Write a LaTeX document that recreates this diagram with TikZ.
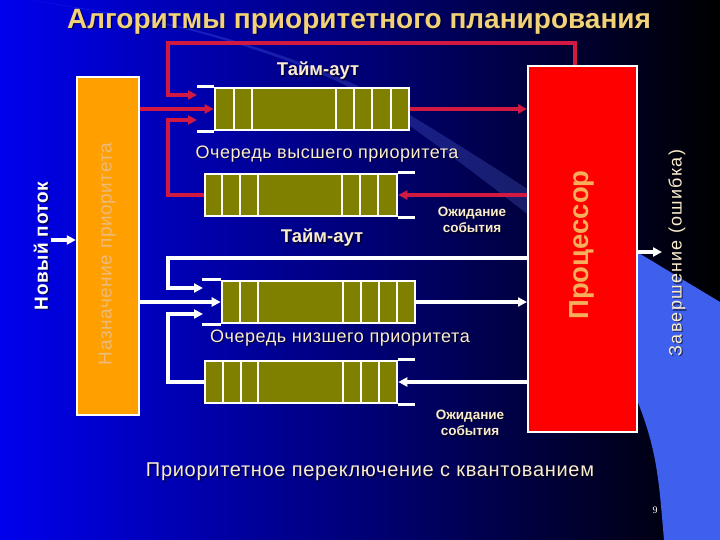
\documentclass[tikz,border=0pt]{standalone}
\usepackage{fontspec}
\setmainfont{Liberation Sans}
\newfontfamily\serifnum{Liberation Serif}
\usetikzlibrary{arrows.meta}
\definecolor{bgL}{RGB}{0,0,238}
\definecolor{bgM}{RGB}{0,0,192}
\definecolor{lightreg}{RGB}{62,96,236}
\definecolor{beamc}{RGB}{110,140,255}
\definecolor{titlec}{RGB}{242,210,120}
\definecolor{creamc}{RGB}{250,236,205}
\definecolor{proctext}{RGB}{245,175,90}
\definecolor{orangebox}{RGB}{255,160,0}
\definecolor{orangetext}{RGB}{238,186,120}
\definecolor{olivec}{RGB}{128,128,0}
\definecolor{redlinec}{RGB}{210,25,65}
\newcommand\shnode[4]{%
  \node[#1, text=black, opacity=0.55] at ([xshift=1.2pt,yshift=-1.2pt]#3) {#4};
  \node[#1] (#2) at (#3) {#4};}
\begin{document}
\begin{tikzpicture}[x=1pt,y=-1pt,
  queue/.style={draw=white, line width=2.6pt, fill=olivec, inner sep=0pt, minimum height=42pt},
  qline/.style={draw=white, line width=2.6pt},
  redarr/.style={draw=redlinec, line width=3.6pt, -{Triangle[length=9pt,width=9pt]}},
  whitearr/.style={draw=white, line width=3.6pt, -{Triangle[length=9pt,width=9pt]}},
  lbl/.style={text=creamc, inner sep=0pt, font=\fontsize{18}{21}\selectfont\addfontfeature{LetterSpace=3}},
  small/.style={text=creamc, inner sep=0pt, align=center, font=\fontsize{13.5}{16.5}\selectfont\bfseries},
  timeout/.style={text=creamc, inner sep=0pt, font=\fontsize{18.5}{21}\selectfont\bfseries},
]
\useasboundingbox (0,0) rectangle (720,540);
% background
\shade[left color=bgL, middle color=bgM, right color=black] (0,0) rectangle (720,540);
\fill[beamc, opacity=0.22] plot[smooth] coordinates {(30,0) (200,31) (360,87) (535,194)}
  -- plot[smooth] coordinates {(535,220) (360,93) (200,33) (30,0)} -- cycle;
\fill[lightreg] (637,252) -- (720,302) -- (720,540) -- (664,540)
  to[out=95,in=-68] (637,400) -- cycle;

% title
\shnode{text=titlec, inner sep=0pt, font=\fontsize{28}{31}\selectfont\bfseries}{title}{359,22}{Алгоритмы приоритетного планирования}

% big boxes
\node[draw=white, line width=2.4pt, fill=orangebox, minimum width=62pt, minimum height=338pt, inner sep=0pt] (ob) at (108,246) {};
\node[text=orangetext, rotate=90, inner sep=0pt, font=\fontsize{19}{22}\selectfont\addfontfeature{LetterSpace=3}] (obl) at (107,254) {Назначение приоритета};
\node[draw=white, line width=2pt, fill=red, minimum width=109pt, minimum height=366pt, inner sep=0pt] (pr) at (582.5,249) {};
\node[text=proctext, rotate=90, inner sep=0pt, font=\fontsize{27.5}{30}\selectfont\bfseries] (prl) at (582,245) {Процессор};

% side labels
\shnode{text=white, rotate=90, inner sep=0pt, font=\fontsize{19}{22}\selectfont\bfseries\addfontfeature{LetterSpace=3}}{nf}{41,246}{Новый поток}
\shnode{text=creamc, rotate=90, inner sep=0pt, font=\fontsize{18}{21}\selectfont\addfontfeature{LetterSpace=7}}{fin}{677,253}{Завершение (ошибка)}

% queues
\node[queue, minimum width=194pt] (qa) at (312,109) {};
\foreach \x in {234,252,336,354,372,391} \draw[qline] (\x,88) -- (\x,130);
\draw[qline] (qa.north west) -- ++(-17,0);
\draw[qline] (qa.south west) -- ++(-17,0);

\node[queue, minimum width=192pt] (qb) at (301,195) {};
\foreach \x in {222,240,258,342,360,378} \draw[qline] (\x,174) -- (\x,216);
\draw[qline] (qb.north east) -- ++(17,0);
\draw[qline] (qb.south east) -- ++(17,0);

\node[queue, minimum width=193pt] (qc) at (318.5,302) {};
\foreach \x in {240,258,343,361,379,397} \draw[qline] (\x,281) -- (\x,323);
\draw[qline] (qc.north west) -- ++(-19,0);
\draw[qline] (qc.south west) -- ++(-19,0);

\node[queue, minimum width=192pt] (qd) at (301,382) {};
\foreach \x in {223,241,258,343,361,379} \draw[qline] (\x,361) -- (\x,403);
\draw[qline] (qd.north east) -- ++(17,0);
\draw[qline] (qd.south east) -- ++(17,0);

% coordinates for loop arrow ends
\coordinate (a1) at (197,95);
\coordinate (a2) at (197,120);
\coordinate (c1) at (203,288);
\coordinate (c2) at (203,314);

% red connectors
\draw[redarr] (ob.east |- qa.west) -- (qa.west);
\draw[redarr] (qa.east) -- (pr.west |- qa.east);
\draw[redarr] (pr.west |- qb.east) -- (qb.east);
\draw[redarr] ([xshift=-7.5pt]pr.north) |- (168,43) |- (a1);
\draw[redarr] (qb.west) -| (168,120) -- (a2);

% white connectors
\draw[whitearr] (ob.east |- qc.west) -- (qc.west);
\draw[whitearr] (qc.east) -- (pr.west |- qc.east);
\draw[whitearr] (pr.west |- qd.east) -- (qd.east);
\draw[whitearr] ([yshift=-9pt]pr.west) -| (168,288) -- (c1);
\draw[whitearr] (qd.west) -| (168,314) -- (c2);
\draw[whitearr] ([yshift=6pt,xshift=-25pt]ob.west) -- ([yshift=6pt]ob.west);
\draw[whitearr] ([yshift=-3pt]pr.east) -- ([yshift=-3pt,xshift=24pt]pr.east);

% labels
\shnode{timeout}{t1}{318,71}{Тайм-аут}
\shnode{timeout}{t2}{322,238}{Тайм-аут}
\shnode{lbl}{hq}{327,154}{Очередь высшего приоритета}
\shnode{lbl}{lq}{340,338}{Очередь низшего приоритета}
\shnode{small}{w1}{472,220}{Ожидание\\события}
\shnode{small}{w2}{470,423}{Ожидание\\события}
\shnode{text=creamc, inner sep=0pt, font=\fontsize{20}{23}\selectfont\addfontfeature{LetterSpace=3.5}}{bot}{370,472}{Приоритетное переключение с квантованием}
\node[text=white, inner sep=0pt, font=\serifnum\fontsize{10}{12}\selectfont] (pn) at (655,510) {9};
\end{tikzpicture}
\end{document}
